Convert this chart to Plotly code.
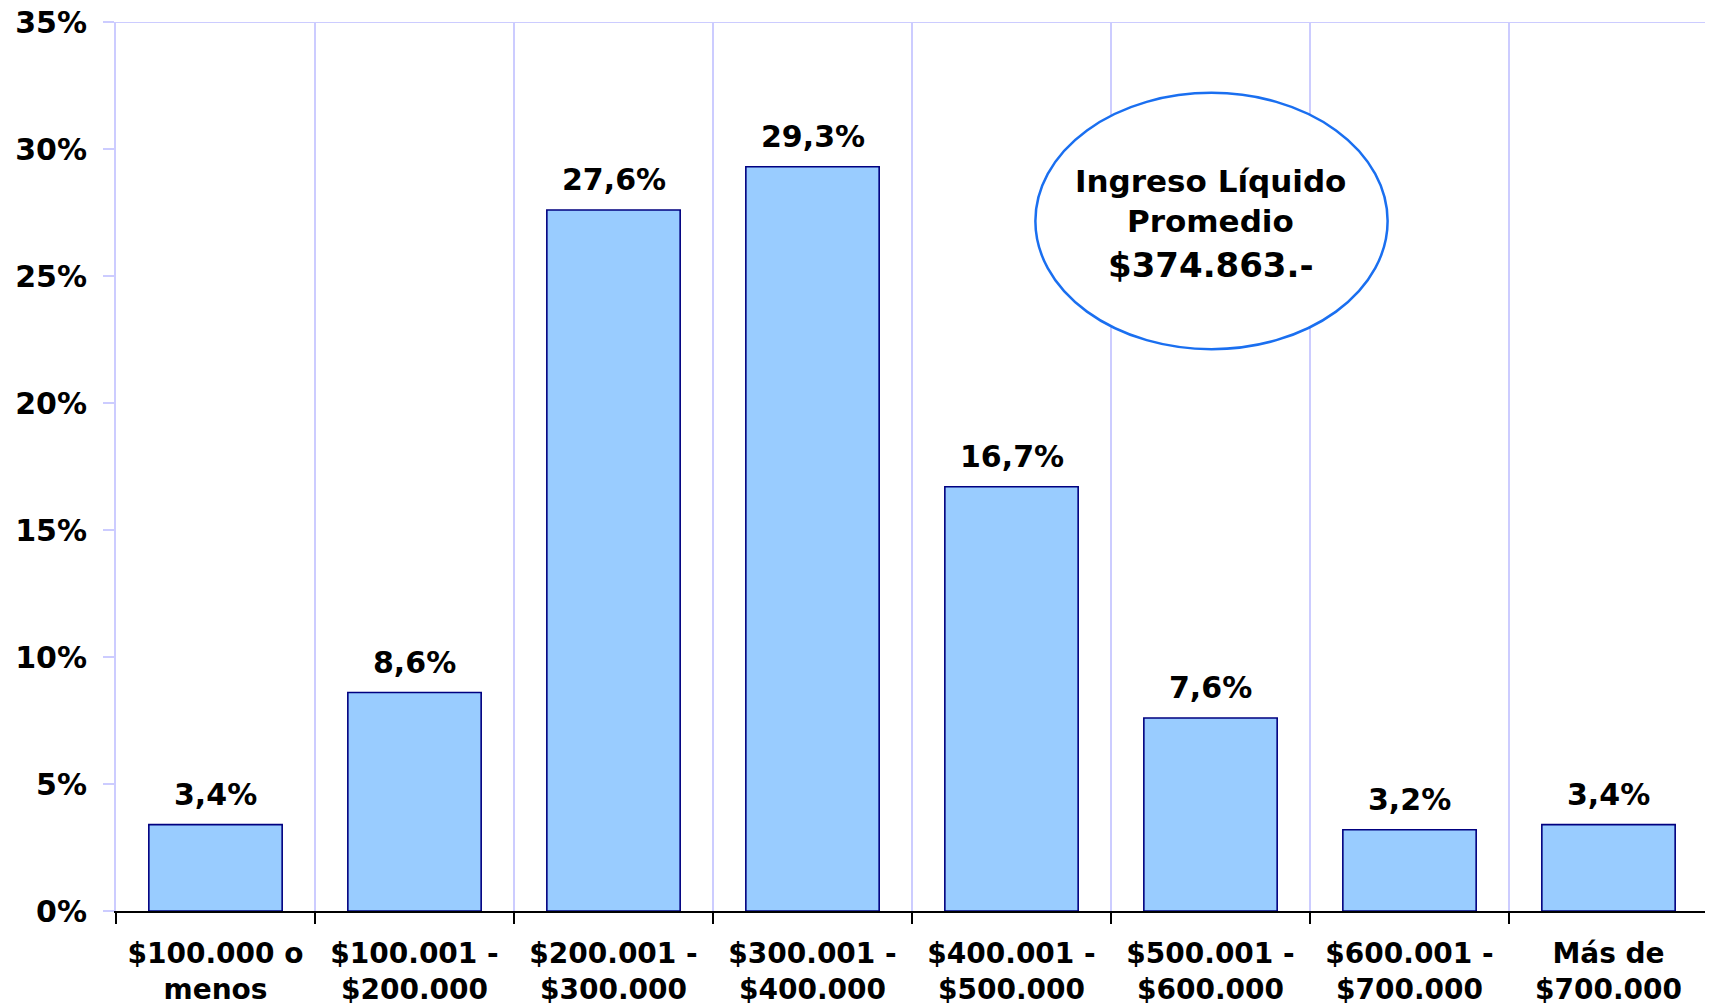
import plotly.graph_objects as go

categorias = [
    '$100.000 o<br>menos',
    '$100.001 -<br>$200.000',
    '$200.001 -<br>$300.000',
    '$300.001 -<br>$400.000',
    '$400.001 -<br>$500.000',
    '$500.001 -<br>$600.000',
    '$600.001 -<br>$700.000',
    'Más de<br>$700.000',
]
porcentajes = [3.4, 8.6, 27.6, 29.3, 16.7, 7.6, 3.2, 3.4]
y_ticks = [0, 5, 10, 15, 20, 25, 30, 35]
y_ticktext = ['0%', '5%', '10%', '15%', '20%', '25%', '30%', '35%']
promedio_lineas = ['Ingreso Líquido', 'Promedio']
promedio_valor = '$374.863.-'

LAVANDA = '#CCCCFF'
FUENTE = 'DejaVu Sans'

fig = go.Figure()
fig.add_trace(go.Bar(
    x=categorias,
    y=porcentajes,
    width=0.67,
    marker=dict(color='#99CCFF', line=dict(color='#000080', width=1.6)),
    showlegend=False,
))

# etiquetas de datos con coma decimal
for cat, v in zip(categorias, porcentajes):
    fig.add_annotation(
        x=cat, y=v, yanchor='middle', yshift=30, showarrow=False,
        text=('%.1f' % v).replace('.', ',') + '%',
        font=dict(family=FUENTE, size=30, color='black', weight='bold'),
    )

# linea superior en 35%
fig.add_shape(type='line', xref='paper', x0=0, x1=1, y0=35, y1=35,
              line=dict(color=LAVANDA, width=2), layer='below')

# ovalo con el promedio
fig.add_shape(type='circle', x0=4.12, x1=5.89, y0=22.12, y1=32.21,
              line=dict(color='#1A6FF0', width=2.5), fillcolor='white')
fig.add_annotation(x=5, y=28.75, text=promedio_lineas[0], showarrow=False,
                   font=dict(family=FUENTE, size=31, color='black', weight='bold'))
fig.add_annotation(x=5, y=27.18, text=promedio_lineas[1], showarrow=False,
                   font=dict(family=FUENTE, size=31, color='black', weight='bold'))
fig.add_annotation(x=5, y=25.45, text=promedio_valor, showarrow=False,
                   font=dict(family=FUENTE, size=34, color='black', weight='bold'))

# la pagina tiene 8px de margen en el body
fig.update_layout(
    width=1713, height=1007,
    margin=dict(l=108, r=13, t=14, b=104),
    plot_bgcolor='white', paper_bgcolor='white',
)
fig.update_xaxes(
    type='category', tickson='boundaries',
    showgrid=True, gridcolor=LAVANDA, gridwidth=2,
    showline=True, linecolor='black', linewidth=2,
    ticks='outside', ticklen=11, tickwidth=2, tickcolor='black',
    ticklabelstandoff=16, ticklabeloverflow='allow',
    tickfont=dict(family=FUENTE, size=28, color='black', weight='bold'),
    automargin=False,
)
fig.update_yaxes(
    range=[0, 35], tickvals=y_ticks, ticktext=y_ticktext,
    showgrid=False, zeroline=False,
    showline=True, mirror=True, linecolor=LAVANDA, linewidth=2,
    ticks='outside', ticklen=11, tickwidth=2, tickcolor=LAVANDA,
    ticklabelstandoff=10, ticklabeloverflow='allow',
    tickfont=dict(family=FUENTE, size=30, color='black', weight='bold'),
    automargin=False,
)

fig.write_html('out.html')
